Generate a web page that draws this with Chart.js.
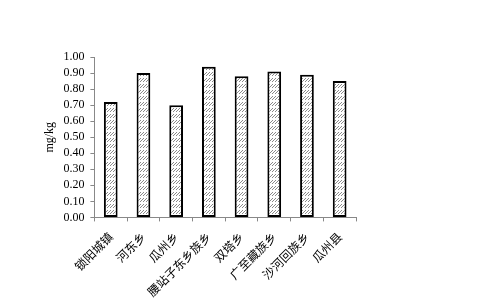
<!DOCTYPE html>
<html>
<head>
<meta charset="utf-8">
<script src="https://cdn.jsdelivr.net/npm/chart.js@4"></script>
<style>
  html, body { margin: 0; padding: 0; background: #fff; }
  #wrap { width: 502px; height: 307px; }
</style>
</head>
<body>
<div id="wrap"><canvas id="grafica" width="502" height="307"></canvas></div>
<script>
// dades llegides de la imatge
const labels = ["锁阳城镇", "河东乡", "瓜州乡", "腰站子东乡族乡", "双塔乡", "广至藏族乡", "沙河回族乡", "瓜州县"];
const valors = [0.72, 0.90, 0.70, 0.94, 0.88, 0.91, 0.89, 0.85];
const yTicks = [0, 0.1, 0.2, 0.3, 0.4, 0.5, 0.6, 0.7, 0.8, 0.9, 1.0];

// trama de ratlletes de les barres
function trama() {
  const c = document.createElement("canvas");
  c.width = 3; c.height = 6;
  const ctx = c.getContext("2d");
  ctx.fillStyle = "#fff";
  ctx.fillRect(0, 0, 3, 6);
  ctx.fillStyle = "#8a8a8a";
  ctx.fillRect(2, 0, 1, 1);
  ctx.fillRect(1, 1, 1, 1);
  ctx.fillRect(0, 2, 1, 1);
  ctx.fillRect(2, 3, 1, 1);
  return ctx.createPattern(c, "repeat");
}

const fontNum = { family: "'Liberation Serif', serif", size: 12 };
const fontCat = { family: "'Noto Sans CJK SC', sans-serif", size: 12 };

const data = {
  labels: labels,
  datasets: [{
    data: valors,
    backgroundColor: trama(),
    borderColor: "#000",
    borderWidth: 2,
    borderSkipped: false,
    barPercentage: 0.42,
    categoryPercentage: 1.0
  }]
};

const config = {
  type: "bar",
  data: data,
  options: {
    responsive: false,
    animation: false,
    layout: { padding: { left: 43, right: 146, top: 57, bottom: 0 } },
    plugins: { legend: { display: false }, tooltip: { enabled: false } },
    scales: {
      x: {
        grid: { display: true, drawOnChartArea: false, offset: true, color: "#888", tickLength: 4 },
        border: { color: "#888" },
        ticks: { color: "#000", font: fontCat, minRotation: 45, maxRotation: 45, padding: 8, autoSkip: false }
      },
      y: {
        min: 0, max: 1.0,
        afterBuildTicks: (axis) => { axis.ticks = yTicks.map(v => ({ value: v })); },
        grid: { display: true, drawOnChartArea: false, color: "#888", tickLength: 4 },
        border: { color: "#888" },
        title: { display: true, text: "mg/kg", color: "#000", font: fontNum, padding: 0 },
        ticks: { color: "#000", font: fontNum, padding: 6, autoSkip: false, callback: (v) => Number(v).toFixed(2) }
      }
    }
  }
};

let myChart = new Chart(document.getElementById("grafica"), config);
</script>
</body>
</html>
